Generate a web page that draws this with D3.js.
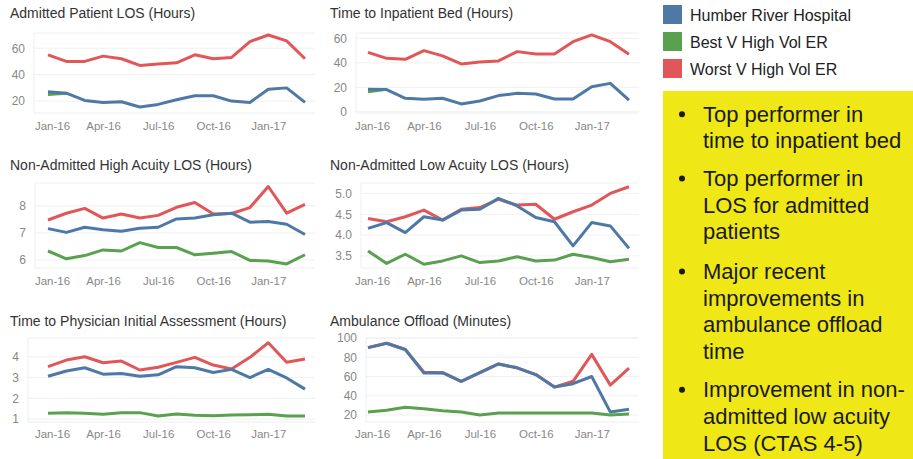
<!DOCTYPE html>
<html>
<head>
<meta charset="utf-8">
<script src="https://cdn.jsdelivr.net/npm/d3@7"></script>
<style>
  body { margin:0; background:#fff; }
  svg { font-family: "Liberation Sans", Arial, sans-serif; }
  .title { font-size:14px; fill:#333; }
  .tick text { fill:#888; }
  .grid line { stroke:#f0f0f0; stroke-width:1; }
</style>
</head>
<body>
<div id="canvas"></div>
<script>
// months and labels
var months = ['Jan-16','Feb-16','Mar-16','Apr-16','May-16','Jun-16','Jul-16','Aug-16','Sep-16','Oct-16','Nov-16','Dec-16','Jan-17','Feb-17','Mar-17'];
var monthTicks = ['Jan-16','Apr-16','Jul-16','Oct-16','Jan-17'];
var seriesNames = ['Humber River Hospital','Best V High Vol ER','Worst V High Vol ER'];
var seriesColors = ['#4e79a7','#59a14f','#e15759'];

// Admitted Patient LOS (Hours)
var admitHumber = [27,26,20.5,19,19.5,15.5,17.5,21,24,24,20,19,29,30,19];
var admitBest   = [25,26,null,null,null,null,null,null,null,null,null,null,null,null,null];
var admitWorst  = [55,50,50,54,52,47,48,49,55,52,53,65,70,65.5,52];
var admitTicks  = [20,40,60];

// Time to Inpatient Bed (Hours)
var bedHumber = [18.3,18.1,11,10.2,11,6.4,8.8,13.2,15.1,14.5,10.4,10.4,20.5,23.2,9.6];
var bedBest   = [16.4,18.3,null,null,null,null,null,null,null,null,null,null,null,null,null];
var bedWorst  = [48.5,43.6,42.8,49.9,45.6,39,40.7,41.5,49.1,47.2,47.2,57.2,62.7,57.2,46.9];
var bedTicks  = [0,20,40,60];

// Non-Admitted High Acuity LOS (Hours)
var highHumber = [7.16,7.02,7.21,7.12,7.06,7.17,7.21,7.52,7.55,7.67,7.73,7.4,7.42,7.32,6.94];
var highBest   = [6.33,6.04,6.16,6.37,6.33,6.64,6.46,6.46,6.19,6.25,6.31,5.98,5.96,5.85,6.19];
var highWorst  = [7.48,7.73,7.91,7.55,7.7,7.55,7.65,7.95,8.13,7.7,7.72,7.94,8.72,7.73,8.06];
var highTicks  = [6,7,8];

// Non-Admitted Low Acuity LOS (Hours)
var lowHumber = [4.16,4.3,4.06,4.44,4.36,4.6,4.62,4.88,4.7,4.42,4.32,3.74,4.3,4.22,3.68];
var lowBest   = [3.62,3.32,3.54,3.3,3.38,3.5,3.34,3.38,3.48,3.38,3.4,3.54,3.46,3.36,3.42];
var lowWorst  = [4.4,4.32,4.44,4.6,4.36,4.62,4.66,4.86,4.72,4.74,4.38,4.56,4.72,5.0,5.16];
var lowTicks  = [3.5,4.0,4.5,5.0];

// Time to Physician Initial Assessment (Hours)
var piaHumber = [3.06,3.31,3.47,3.16,3.19,3.06,3.13,3.52,3.47,3.24,3.39,3.0,3.39,2.98,2.44];
var piaBest   = [1.28,1.31,1.28,1.23,1.31,1.31,1.15,1.25,1.18,1.16,1.2,1.21,1.23,1.15,1.15];
var piaWorst  = [3.52,3.84,4.0,3.71,3.79,3.36,3.49,3.73,3.97,3.6,3.41,3.97,4.67,3.73,3.89];
var piaTicks  = [1,2,3,4];

// Ambulance Offload (Minutes)
var ambHumber = [90,94.5,88,63.5,64,55,64,73,69,62,49,52.5,60,23,26];
var ambBest   = [23,25,28,26.5,24.5,23,20,22,22,22,22,22,22,20,21];
var ambWorst  = [90,94.5,88,64.5,64,55,64,73,69,62,49,55,83,51,68.6];
var ambTicks  = [20,40,60,80,100];

var notes = [
  ['Top performer in','time to inpatient bed'],
  ['Top performer in','LOS for admitted','patients'],
  ['Major recent','improvements in','ambulance offload','time'],
  ['Improvement in non-','admitted low acuity','LOS (CTAS 4-5)']
];

var W = 913, H = 459;
var svg = d3.select('#canvas').append('svg').attr('width',W).attr('height',H);

// panel layout
var charts = [
  {title:'Admitted Patient LOS (Hours)', ox:0, top:33, bot:113, dom:[11,71.5], ticks:admitTicks, fmt:d3.format('d'), lab:25, xl:[48,305], ty:18, xy:131,
   series:[admitBest,admitWorst,admitHumber]},
  {title:'Time to Inpatient Bed (Hours)', ox:320, top:33, bot:113, dom:[-1,64.3], ticks:bedTicks, fmt:d3.format('d'), lab:27, xl:[48,309], ty:18, xy:131,
   series:[bedBest,bedWorst,bedHumber]},
  {title:'Non-Admitted High Acuity LOS (Hours)', ox:0, top:183, bot:268, dom:[5.7,8.85], ticks:highTicks, fmt:d3.format('d'), lab:26, xl:[48,305], ty:170, xy:286,
   series:[highBest,highWorst,highHumber]},
  {title:'Non-Admitted Low Acuity LOS (Hours)', ox:320, top:183, bot:268, dom:[3.21,5.25], ticks:lowTicks, fmt:d3.format('.1f'), lab:32, xl:[48,309], ty:170, xy:286,
   series:[lowBest,lowWorst,lowHumber]},
  {title:'Time to Physician Initial Assessment (Hours)', ox:0, top:338, bot:422, dom:[0.86,4.9], ticks:piaTicks, fmt:d3.format('d'), lab:19, xl:[48,305], ty:326, xy:439,
   series:[piaBest,piaWorst,piaHumber]},
  {title:'Ambulance Offload (Minutes)', ox:320, top:338, bot:422, dom:[12.7,100], ticks:ambTicks, fmt:d3.format('d'), lab:37, xl:[48,309], ty:326, xy:439,
   series:[ambBest,ambWorst,ambHumber]}
];
// draw order: best, worst, humber on top
var drawColors = [seriesColors[1], seriesColors[2], seriesColors[0]];

charts.forEach(function(c){
  var g = svg.append('g').attr('transform','translate('+c.ox+',0)');
  var x = d3.scalePoint().domain(months).range(c.xl);
  var y = d3.scaleLinear().domain(c.dom).range([c.bot,c.top]);
  var left = c.lab + 9, right = c.xl[1] + 10;

  g.append('text').attr('class','title').attr('x',10).attr('y',c.ty).text(c.title);

  // faint frame + gridlines
  g.append('g').attr('class','grid').selectAll('line')
    .data(c.ticks.concat([c.dom[1]]))
    .enter().append('line')
    .attr('x1',left).attr('x2',right)
    .attr('y1',function(d){return y(d);}).attr('y2',function(d){return y(d);});
  g.append('line').attr('x1',left).attr('x2',left).attr('y1',c.top).attr('y2',c.bot)
    .attr('stroke','#eeeeee');
  g.append('line').attr('x1',left).attr('x2',right).attr('y1',c.bot).attr('y2',c.bot)
    .attr('stroke','#eeeeee');

  // axes
  var axY = d3.axisLeft(y).tickValues(c.ticks).tickFormat(c.fmt).tickSize(0).tickPadding(0);
  var gy = g.append('g').attr('transform','translate('+c.lab+',0)').call(axY);
  gy.select('.domain').remove();
  gy.selectAll('text').style('font-size','12px');

  var axX = d3.axisBottom(x).tickValues(monthTicks).tickSize(0).tickPadding(0);
  var gx = g.append('g').attr('transform','translate(0,'+(c.xy-9)+')').call(axX);
  gx.select('.domain').remove();
  gx.selectAll('text').style('font-size','11.5px').attr('dy','0.71em')
    .attr('dx',function(d,i){return i === 0 ? 4 : 0;}); // first label nudged in from the edge

  var line = d3.line()
    .defined(function(d){return d != null;})
    .x(function(d,i){return x(months[i]);})
    .y(function(d){return y(d);});

  c.series.forEach(function(s,k){
    g.append('path').datum(s)
      .attr('d',line)
      .attr('fill','none')
      .attr('stroke',drawColors[k])
      .attr('stroke-width',3)
      .attr('stroke-linejoin','round');
  });
});

// legend
var legend = svg.append('g').attr('transform','translate(663,5)');
seriesNames.forEach(function(n,i){
  legend.append('rect').attr('x',0).attr('y',i*27).attr('width',19).attr('height',19)
    .attr('fill',seriesColors[i]);
  legend.append('text').attr('x',27).attr('y',i*27+15.5).text(n)
    .style('font-size','16px').attr('fill','#222');
});

// note box
svg.append('rect').attr('x',663).attr('y',91).attr('width',250).attr('height',368).attr('fill','#efe816');
var baseY = [121.7, 186, 279, 397.3];
notes.forEach(function(lines,i){
  svg.append('circle').attr('cx',682).attr('cy',baseY[i]-7.5).attr('r',3).attr('fill','#1a1a1a');
  lines.forEach(function(t,j){
    svg.append('text').attr('x',703).attr('y',baseY[i]+j*26.7).text(t)
      .style('font-size','22px').attr('fill','#1a1a1a');
  });
});
</script>
</body>
</html>
